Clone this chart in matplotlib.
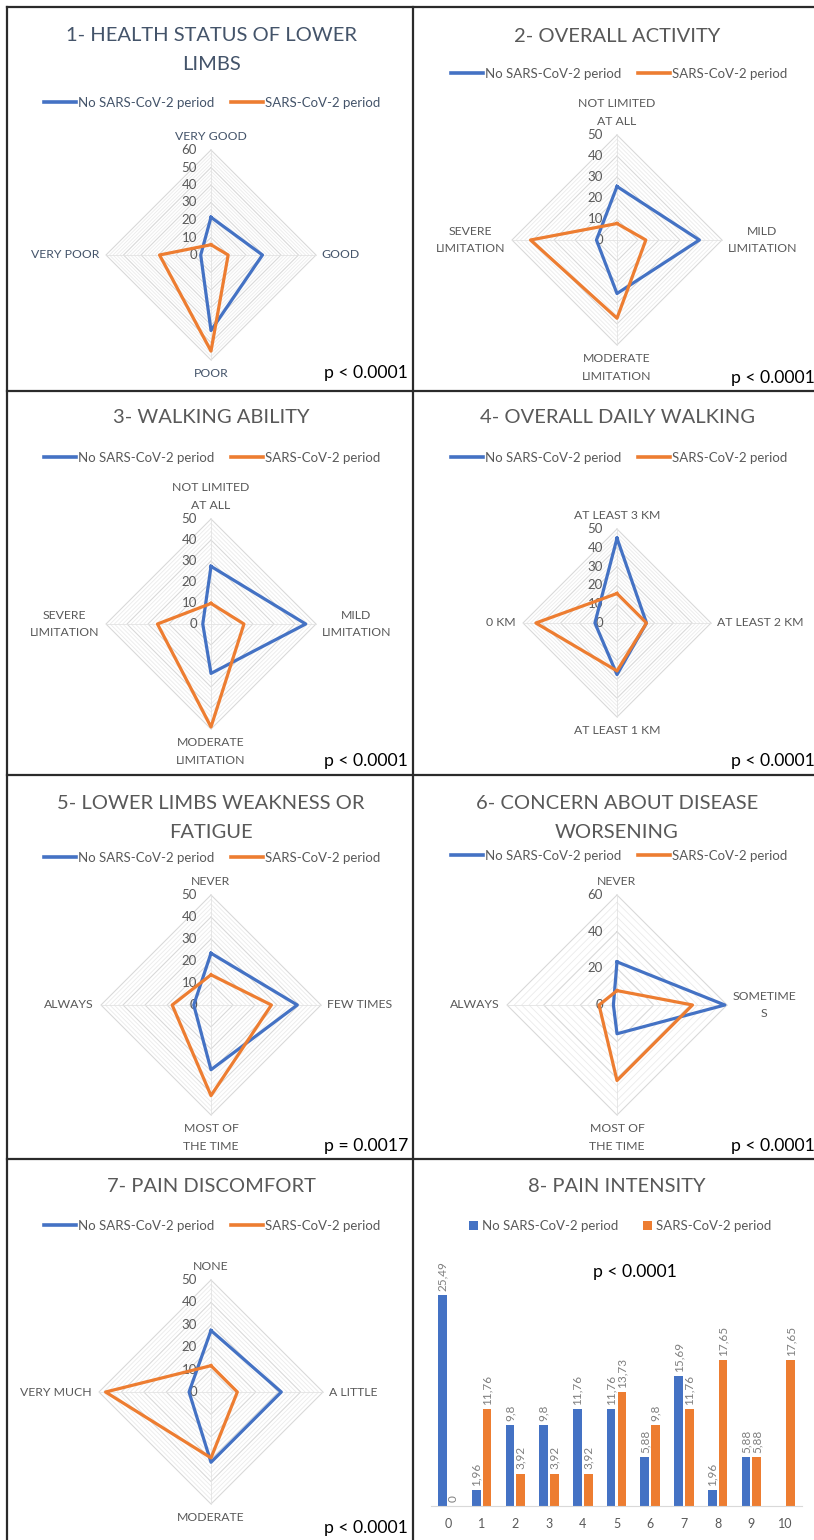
import numpy as np
import matplotlib
matplotlib.use('Agg')
import matplotlib.pyplot as plt
from matplotlib.lines import Line2D

plt.rcParams['font.family'] = ['Lato', 'DejaVu Sans']

W, H = 814, 1540
fig = plt.figure(figsize=(W / 100, H / 100), dpi=100)
fig.patch.set_facecolor('white')

BLUE = '#4472C4'
ORANGE = '#ED7D31'
GREY = '#595959'
SLATE = '#44546A'

series_names = ['No SARS-CoV-2 period', 'SARS-CoV-2 period']

# ---------------- data ----------------
p1_cats = ['VERY GOOD', 'GOOD', 'POOR', 'VERY POOR']
p1_no = [21.57, 29.41, 43.14, 5.88]
p1_sars = [5.88, 9.80, 54.90, 29.41]

p2_cats = ['NOT LIMITED\nAT ALL', 'MILD\nLIMITATION', 'MODERATE\nLIMITATION', 'SEVERE\nLIMITATION']
p2_no = [25.49, 39.22, 25.49, 9.80]
p2_sars = [7.84, 13.73, 37.25, 41.18]

p3_cats = ['NOT LIMITED\nAT ALL', 'MILD\nLIMITATION', 'MODERATE\nLIMITATION', 'SEVERE\nLIMITATION']
p3_no = [27.45, 45.10, 23.53, 3.92]
p3_sars = [9.80, 15.69, 49.02, 25.49]

p4_cats = ['AT LEAST 3 KM', 'AT LEAST 2 KM', 'AT LEAST 1 KM', '0 KM']
p4_no = [45.10, 15.69, 27.45, 11.76]
p4_sars = [15.69, 15.69, 25.49, 43.14]

p5_cats = ['NEVER', 'FEW TIMES', 'MOST OF\nTHE TIME', 'ALWAYS']
p5_no = [23.53, 39.22, 29.41, 7.84]
p5_sars = [13.73, 27.45, 41.18, 17.65]

p6_cats = ['NEVER', 'SOMETIME\nS', 'MOST OF\nTHE TIME', 'ALWAYS']
p6_no = [23.53, 58.82, 15.69, 1.96]
p6_sars = [7.84, 41.18, 41.18, 9.80]

p7_cats = ['NONE', 'A LITTLE', 'MODERATE', 'VERY MUCH']
p7_no = [27.45, 31.37, 31.37, 9.80]
p7_sars = [11.76, 11.76, 29.41, 47.06]

p8_levels = ['0', '1', '2', '3', '4', '5', '6', '7', '8', '9', '10']
p8_no = [25.49, 1.96, 9.8, 9.8, 11.76, 11.76, 5.88, 15.69, 1.96, 5.88, np.nan]
p8_sars = [0, 11.76, 3.92, 3.92, 3.92, 13.73, 9.8, 11.76, 17.65, 5.88, 17.65]

titles = ['1- HEALTH STATUS OF LOWER\nLIMBS', '2- OVERALL ACTIVITY', '3- WALKING ABILITY',
          '4- OVERALL DAILY WALKING', '5- LOWER LIMBS WEAKNESS OR\nFATIGUE',
          '6- CONCERN ABOUT DISEASE\nWORSENING', '7- PAIN DISCOMFORT', '8- PAIN INTENSITY']
pvals = ['p < 0.0001', 'p < 0.0001', 'p < 0.0001', 'p < 0.0001', 'p = 0.0017',
         'p < 0.0001', 'p < 0.0001', 'p < 0.0001']


def fx(x):
    return x / W


def fy(y):
    return 1 - y / H


# ---------------- panel borders ----------------
bc = '#2b2b2b'
for (x0, y0, x1, y1) in [(7, 7, 814, 7), (7, 7, 7, 1540), (413, 7, 413, 1540),
                         (7, 391, 814, 391), (7, 775, 814, 775), (7, 1159, 814, 1159)]:
    fig.add_artist(Line2D([fx(x0), fx(x1)], [fy(y0), fy(y1)], transform=fig.transFigure,
                          color=bc, lw=1.6))


def title(x, y, text, color=GREY):
    fig.text(fx(x), fy(y), text, ha='center', va='center', fontsize=14.5, color=color,
             linespacing=1.8)


def legend_lines(ax, x, y, color=GREY):
    handles = [Line2D([], [], color=BLUE, lw=2.6), Line2D([], [], color=ORANGE, lw=2.6)]
    leg = ax.legend(handles, series_names, loc='center', bbox_to_anchor=(fx(x), fy(y)),
                    bbox_transform=fig.transFigure, ncol=2, frameon=False, fontsize=9.5,
                    handlelength=2.4, handletextpad=0.15, columnspacing=1.3,
                    borderaxespad=0, borderpad=0)
    for t in leg.get_texts():
        t.set_color(color)


def radar(cx, cy, R, cats, no, sars, rmax, major, tcolor=GREY):
    ax = fig.add_axes([fx(cx - R), fy(cy + R), 2 * R / W, 2 * R / H], projection='polar')
    ax.set_theta_zero_location('N')
    ax.set_theta_direction(-1)
    ax.set_ylim(0, rmax)
    ax.grid(False)
    ax.set_xticks([])
    ax.set_yticks([])
    ax.spines['polar'].set_visible(False)
    ax.patch.set_alpha(0)
    n = len(cats)
    th = np.arange(n) * 2 * np.pi / n
    thc = np.append(th, th[0])
    minor = major / 5
    for lv in np.arange(minor, rmax + 1e-9, minor):
        is_major = abs(lv / major - round(lv / major)) < 1e-6
        ax.plot(thc, [lv] * (n + 1), color='#D9D9D9' if is_major else '#EBEBEB',
                lw=0.8 if is_major else 0.6, zorder=1, clip_on=False)
    for t in th:
        ax.plot([t, t], [0, rmax], color='#E3E3E3', lw=0.6, zorder=1, clip_on=False)
    for v in np.arange(0, rmax + 1e-9, major):
        ax.annotate(f'{v:g}', xy=(0, v), xytext=(-10, 0), textcoords='offset points',
                    ha='right', va='center', fontsize=9.5, color=GREY, zorder=2)
    ax.plot(thc, np.append(no, no[0]), color=BLUE, lw=2.3, zorder=3, clip_on=False)
    ax.plot(thc, np.append(sars, sars[0]), color=ORANGE, lw=2.3, zorder=3, clip_on=False)
    offs = [((0, 6), 'center', 'bottom'), ((4, 0), 'left', 'center'),
            ((0, -6), 'center', 'top'), ((-5, 0), 'right', 'center')]
    for t, lab, (o, ha, va) in zip(th, cats, offs):
        ax.annotate(lab, xy=(t, rmax), xytext=o, textcoords='offset points', ha=ha, va=va,
                    fontsize=8.8, color=tcolor, multialignment='center', linespacing=1.75)
    return ax


def pval(x, y, text, ha):
    fig.text(fx(x), fy(y), text, ha=ha, va='center', fontsize=12.7, color='black')


# ---------------- panel 1 ----------------
ax = radar(211, 255, 105, p1_cats, p1_no, p1_sars, 60, 10, tcolor=SLATE)
title(211, 50, titles[0], color=SLATE)
legend_lines(ax, 212, 103, color=SLATE)
pval(408, 373, pvals[0], 'right')

# ---------------- panel 2 ----------------
ax = radar(617, 240, 105, p2_cats, p2_no, p2_sars, 50, 10)
title(617, 36, titles[1])
legend_lines(ax, 619, 74)
pval(731, 378, pvals[1], 'left')

# ---------------- panel 3 ----------------
ax = radar(211, 624, 105, p3_cats, p3_no, p3_sars, 50, 10)
title(211, 418, titles[2])
legend_lines(ax, 212, 458)
pval(408, 761, pvals[2], 'right')

# ---------------- panel 4 ----------------
ax = radar(617, 623, 94, p4_cats, p4_no, p4_sars, 50, 10)
title(617, 418, titles[3])
legend_lines(ax, 619, 458)
pval(731, 761, pvals[3], 'left')

# ---------------- panel 5 ----------------
ax = radar(211, 1005, 110, p5_cats, p5_no, p5_sars, 50, 10)
title(211, 818, titles[4])
legend_lines(ax, 212, 858)
pval(408, 1146, pvals[4], 'right')

# ---------------- panel 6 ----------------
ax = radar(617, 1005, 110, p6_cats, p6_no, p6_sars, 60, 20)
title(617, 818, titles[5])
legend_lines(ax, 619, 856)
pval(731, 1146, pvals[5], 'left')

# ---------------- panel 7 ----------------
ax = radar(211, 1392, 112, p7_cats, p7_no, p7_sars, 50, 10)
title(211, 1187, titles[6])
legend_lines(ax, 212, 1226)
pval(408, 1528, pvals[6], 'right')

# ---------------- panel 8 (bars) ----------------
ax8 = fig.add_axes([fx(431), fy(1506), (802 - 431) / W, 248 / H])
x = np.arange(len(p8_levels))
b1 = ax8.bar(x - 0.16, p8_no, 0.26, color=BLUE, label=series_names[0])
b2 = ax8.bar(x + 0.16, p8_sars, 0.26, color=ORANGE, label=series_names[1])


def fmt(vals):
    return ['' if np.isnan(v) else f'{v:g}'.replace('.', ',') for v in vals]


ax8.bar_label(b1, labels=fmt(p8_no), rotation=90, padding=3, fontsize=8.5, color='#7F7F7F')
ax8.bar_label(b2, labels=fmt(p8_sars), rotation=90, padding=3, fontsize=8.5, color='#7F7F7F')
ax8.set_xlim(-0.5, len(p8_levels) - 0.5)
ax8.set_ylim(0, 30)
ax8.set_xticks(x)
ax8.set_xticklabels(p8_levels)
ax8.tick_params(axis='x', length=0, pad=9, labelsize=9, labelcolor=GREY)
ax8.set_yticks([])
for s in ['top', 'right', 'left']:
    ax8.spines[s].set_visible(False)
ax8.spines['bottom'].set_color('#D9D9D9')
ax8.patch.set_alpha(0)
title(617, 1187, titles[7])
leg = ax8.legend(loc='center', bbox_to_anchor=(fx(620), fy(1226)), bbox_transform=fig.transFigure,
                 ncol=2, frameon=False, fontsize=9.5, handlelength=0.65, handleheight=0.65,
                 handletextpad=0.3, columnspacing=1.9, borderaxespad=0, borderpad=0)
for t in leg.get_texts():
    t.set_color(GREY)
pval(635, 1272, pvals[7], 'center')

fig.savefig('out.png', dpi=100, facecolor='white')
